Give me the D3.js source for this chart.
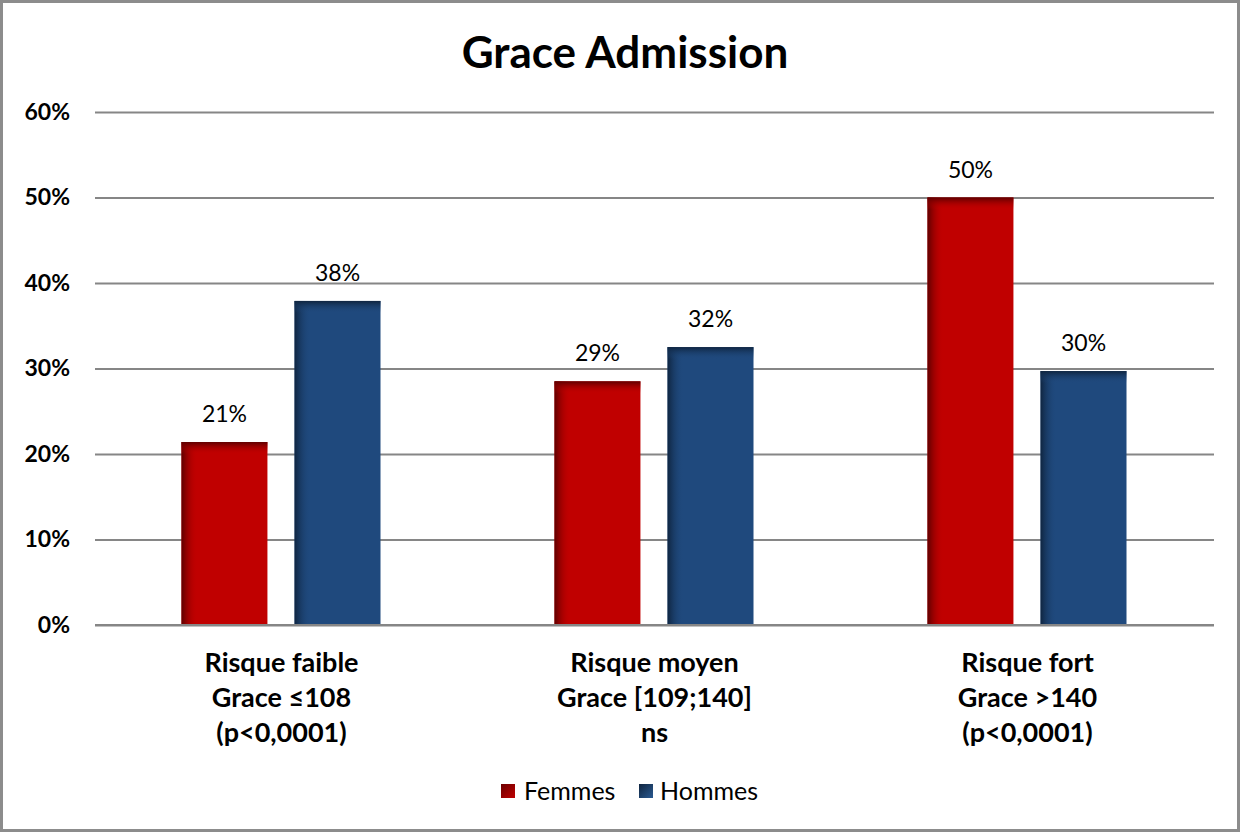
<!DOCTYPE html>
<html>
<head>
<meta charset="utf-8">
<script src="https://cdn.jsdelivr.net/npm/d3@7"></script>
<style>
body { margin: 0; background: #fff; }
text { font-family: Lato, "Open Sans", sans-serif; }
</style>
</head>
<body>
<svg width="1240" height="832"></svg>
<script>
var categories = [
    ["Risque faible", "Grace \u2264108", "(p<0,0001)"],
    ["Risque moyen", "Grace [109;140]", "ns"],
    ["Risque fort", "Grace >140", "(p<0,0001)"]
];
var seriesNames = ["Femmes", "Hommes"];
var femmes = [21.4, 28.5, 50.0];
var hommes = [37.9, 32.5, 29.7];
var femmesLabels = ["21%", "29%", "50%"];
var hommesLabels = ["38%", "32%", "30%"];
var yTicks = [0, 10, 20, 30, 40, 50, 60];

var svg = d3.select("svg");
var plotLeft = 95, plotRight = 1214, plotTop = 112, plotBottom = 625;

// chart border
svg.append("rect")
    .attr("x", 1.5).attr("y", 1.5)
    .attr("width", 1237).attr("height", 829)
    .attr("fill", "#fff")
    .attr("stroke", "#8c8c8c")
    .attr("stroke-width", 3);

var defs = svg.append("defs");
function shade(id, dark, base, vertical) {
    var g = defs.append("linearGradient").attr("id", id);
    if (vertical) g.attr("x1", 0).attr("y1", 0).attr("x2", 0).attr("y2", 1);
    else g.attr("x1", 0).attr("y1", 0).attr("x2", 1).attr("y2", 0);
    g.append("stop").attr("offset", 0).attr("stop-color", dark).attr("stop-opacity", 1);
    g.append("stop").attr("offset", 1).attr("stop-color", base).attr("stop-opacity", 0);
}
var colors = { Femmes: "#C00000", Hommes: "#1F497D" };
shade("redL", "#5e0000", "#C00000", false);
shade("redT", "#5e0000", "#C00000", true);
shade("blueL", "#0f2540", "#1F497D", false);
shade("blueT", "#0f2540", "#1F497D", true);
var lg = defs.append("linearGradient").attr("id", "legRed")
    .attr("x1", 0).attr("y1", 0).attr("x2", 1).attr("y2", 1);
lg.append("stop").attr("offset", 0).attr("stop-color", "#6b0000");
lg.append("stop").attr("offset", 1).attr("stop-color", "#C00000");
var lb = defs.append("linearGradient").attr("id", "legBlue")
    .attr("x1", 0).attr("y1", 0).attr("x2", 1).attr("y2", 1);
lb.append("stop").attr("offset", 0).attr("stop-color", "#10253f");
lb.append("stop").attr("offset", 1).attr("stop-color", "#2a5a92");

var x0 = d3.scaleBand().domain([0, 1, 2]).range([plotLeft, plotRight]);
var x1 = d3.scaleBand().domain(seriesNames).range([x0.bandwidth() / 2 - 100, x0.bandwidth() / 2 + 99])
    .paddingInner(0.24);
var y = d3.scaleLinear().domain([0, 60]).range([plotBottom, plotTop]);

// title
svg.append("text")
    .attr("x", 625).attr("y", 68)
    .attr("text-anchor", "middle")
    .attr("font-size", "44px")
    .attr("font-weight", "bold")
    .text("Grace Admission");

// gridlines
var yAxis = svg.append("g")
    .attr("transform", "translate(" + plotLeft + ",0)")
    .call(d3.axisLeft(y).tickValues(yTicks).tickSize(-(plotRight - plotLeft)).tickPadding(25)
        .tickFormat(function(d) { return d + "%"; }));
yAxis.select(".domain").remove();
yAxis.selectAll(".tick line").attr("stroke", "#868686").attr("stroke-width", 2);
yAxis.selectAll(".tick text")
    .attr("font-size", "23px")
    .attr("font-weight", "bold")
    .attr("fill", "#000")
    .style("font-family", "Lato, 'Open Sans', sans-serif");

// bars
var data = [];
for (var i = 0; i < 3; i++) {
    data.push({ cat: i, s: "Femmes", v: femmes[i], label: femmesLabels[i] });
    data.push({ cat: i, s: "Hommes", v: hommes[i], label: hommesLabels[i] });
}
var bars = svg.selectAll(".bar").data(data).enter().append("g").attr("class", "bar");
bars.append("rect")
    .attr("x", function(d) { return x0(d.cat) + x1(d.s); })
    .attr("y", function(d) { return y(d.v); })
    .attr("width", x1.bandwidth())
    .attr("height", function(d) { return y(0) - y(d.v); })
    .attr("fill", function(d) { return colors[d.s]; });
bars.append("rect")
    .attr("x", function(d) { return x0(d.cat) + x1(d.s); })
    .attr("y", function(d) { return y(d.v); })
    .attr("width", 16)
    .attr("height", function(d) { return y(0) - y(d.v); })
    .attr("fill", function(d) { return d.s == "Femmes" ? "url(#redL)" : "url(#blueL)"; });
bars.append("rect")
    .attr("x", function(d) { return x0(d.cat) + x1(d.s); })
    .attr("y", function(d) { return y(d.v); })
    .attr("width", x1.bandwidth())
    .attr("height", 12)
    .attr("fill", function(d) { return d.s == "Femmes" ? "url(#redT)" : "url(#blueT)"; });
bars.append("text")
    .attr("x", function(d) { return x0(d.cat) + x1(d.s) + x1.bandwidth() / 2; })
    .attr("y", function(d) { return y(d.v) - 20; })
    .attr("text-anchor", "middle")
    .attr("font-size", "23px")
    .attr("fill", "#000")
    .text(function(d) { return d.label; });

// axis line
svg.append("line")
    .attr("x1", plotLeft).attr("x2", plotRight)
    .attr("y1", y(0)).attr("y2", y(0))
    .attr("stroke", "#868686").attr("stroke-width", 2);

// category labels
categories.forEach(function(lines, i) {
    var t = svg.append("text")
        .attr("x", x0(i) + x0.bandwidth() / 2)
        .attr("text-anchor", "middle")
        .attr("font-size", "27px")
        .attr("font-weight", "bold");
    lines.forEach(function(l, j) {
        t.append("tspan")
            .attr("x", x0(i) + x0.bandwidth() / 2)
            .attr("y", 672 + j * 35)
            .text(l);
    });
});

// legend
var legend = svg.append("g").attr("transform", "translate(501,784)");
legend.append("rect").attr("width", 14).attr("height", 14).attr("fill", "url(#legRed)");
legend.append("text").attr("x", 23).attr("y", 16).attr("font-size", "25px").text("Femmes");
legend.append("rect").attr("x", 138).attr("width", 14).attr("height", 14).attr("fill", "url(#legBlue)");
legend.append("text").attr("x", 159).attr("y", 16).attr("font-size", "25px").text("Hommes");
</script>
</body>
</html>
